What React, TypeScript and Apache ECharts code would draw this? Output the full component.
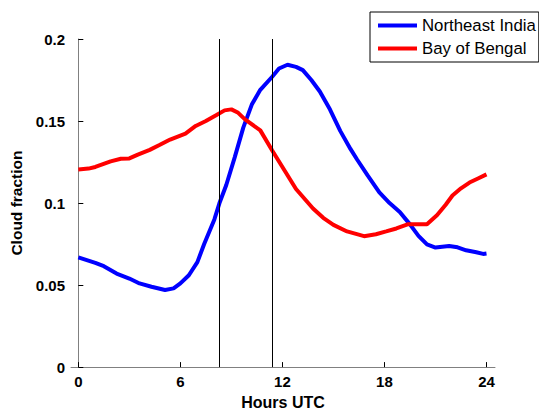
import React, { useEffect, useRef } from "react";
import * as echarts from "echarts";

const neHours = [0, 1, 1.5, 2.25, 3, 3.6, 4.3, 5.1, 5.6, 6.0, 6.5, 7.0, 7.4, 8.0, 8.3, 8.7, 9.2, 9.7, 10.2, 10.7, 11.4, 11.8, 12.3, 12.8, 13.2, 13.7, 14.2, 14.8, 15.4, 16.0, 16.4, 17.0, 17.7, 18.3, 18.9, 19.5, 20.0, 20.5, 21.0, 21.8, 22.3, 22.8, 23.4, 23.8, 24.0];
const neValues = [0.0669, 0.0635, 0.0615, 0.057, 0.054, 0.051, 0.049, 0.047, 0.048, 0.051, 0.056, 0.064, 0.075, 0.09, 0.1, 0.111, 0.128, 0.146, 0.16, 0.169, 0.177, 0.182, 0.1843, 0.183, 0.181, 0.175, 0.168, 0.157, 0.144, 0.133, 0.1264, 0.117, 0.1065, 0.1, 0.0946, 0.087, 0.08, 0.0748, 0.0729, 0.0738, 0.073, 0.0712, 0.07, 0.069, 0.0693];

const bobHours = [0, 0.6, 1.0, 1.9, 2.5, 3.0, 3.5, 4.2, 4.8, 5.4, 6.3, 6.9, 7.5, 8.1, 8.6, 9.0, 9.4, 9.8, 10.7, 11.4, 12.0, 12.8, 13.8, 14.4, 15.0, 15.8, 16.8, 17.5, 18.1, 18.7, 19.4, 20.5, 21.1, 21.6, 22.0, 22.5, 23.0, 23.5, 24.0];
const bobValues = [0.1205, 0.121, 0.122, 0.1254, 0.127, 0.1272, 0.1295, 0.1324, 0.1355, 0.1387, 0.1423, 0.147, 0.15, 0.1535, 0.1565, 0.1571, 0.155, 0.151, 0.1443, 0.132, 0.122, 0.1086, 0.0967, 0.091, 0.0867, 0.0827, 0.0798, 0.081, 0.0827, 0.0845, 0.0871, 0.0871, 0.0927, 0.099, 0.1046, 0.109, 0.1125, 0.115, 0.1175];

const xTicks = [0, 6, 12, 18, 24];
const markerHours = [8.3, 11.4];
const seriesNames = ["Northeast India", "Bay of Bengal"];

const FONT = "'Liberation Sans', Arial, sans-serif";

export default function App() {
  const ref = useRef<HTMLDivElement>(null);
  useEffect(() => {
    if (!ref.current) return;
    const chart = echarts.init(ref.current, undefined, { renderer: "svg" });
    const labelStyle = { color: "#000", fontSize: 15, fontWeight: "bold" as const, fontFamily: FONT };
    chart.setOption({
      animation: false,
      backgroundColor: "#fff",
      grid: { left: 71, right: 44, top: 39, bottom: 39 },
      legend: {
        orient: "vertical",
        left: 370,
        top: 12,
        data: seriesNames,
        icon: "rect",
        borderColor: "#000",
        borderWidth: 1,
        borderRadius: 0,
        padding: [4, 3, 4, 8],
        itemWidth: 39,
        itemHeight: 4,
        itemGap: 4,
        textStyle: { color: "#000", fontFamily: FONT, fontWeight: "normal", fontSize: 16.8, lineHeight: 19 },
      },
      xAxis: {
        type: "value",
        min: -0.43,
        max: 24.5,
        name: "Hours UTC",
        nameLocation: "middle",
        nameGap: 20,
        nameTextStyle: { ...labelStyle, fontSize: 16 },
        axisLine: { lineStyle: { color: "#808080", width: 1 } },
        axisTick: { inside: true, length: 5, customValues: xTicks, lineStyle: { color: "#000" } },
        axisLabel: { ...labelStyle, customValues: xTicks, margin: 7 },
        splitLine: { show: false },
      },
      yAxis: {
        type: "value",
        min: 0,
        max: 0.2,
        interval: 0.05,
        name: "Cloud fraction",
        nameLocation: "middle",
        nameGap: 42,
        nameTextStyle: { ...labelStyle, fontSize: 15.5 },
        axisLine: { show: true, lineStyle: { color: "#808080", width: 1 } },
        axisTick: { show: true, inside: true, length: 5, lineStyle: { color: "#000" } },
        axisLabel: { ...labelStyle, margin: 6 },
        splitLine: { show: false },
      },
      series: [
        {
          name: seriesNames[0],
          type: "line",
          symbol: "none",
          showSymbol: false,
          color: "#0000ff",
          lineStyle: { color: "#0000ff", width: 4 },
          data: neHours.map((h, i) => [h, neValues[i]]),
          markLine: {
            silent: true,
            symbol: "none",
            label: { show: false },
            lineStyle: { color: "#000", width: 1, type: "solid" },
            data: markerHours.map((h) => ({ xAxis: h })),
          },
        },
        {
          name: seriesNames[1],
          type: "line",
          symbol: "none",
          showSymbol: false,
          color: "#ff0000",
          lineStyle: { color: "#ff0000", width: 4 },
          data: bobHours.map((h, i) => [h, bobValues[i]]),
        },
      ],
    });
    return () => chart.dispose();
  }, []);
  return <div ref={ref} style={{ position: "absolute", left: 0, top: 0, width: 539, height: 415 }} />;
}
